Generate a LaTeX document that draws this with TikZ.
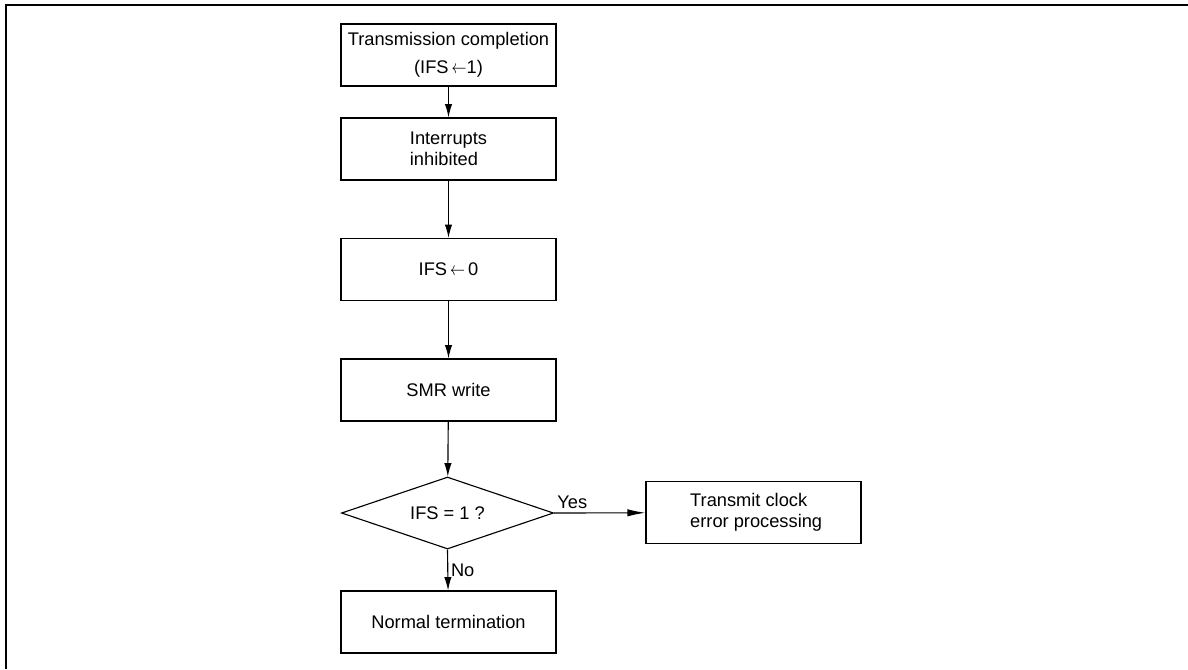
\documentclass[tikz,border=0pt]{standalone}
\usepackage{fontspec}
\setmainfont{Liberation Sans}
\usepackage{graphicx}
\usetikzlibrary{arrows.meta,shapes.geometric}
\newcommand{\myarrow}{\raisebox{0.3pt}{\scalebox{0.78}[1]{$\leftarrow$}}}
\begin{document}
\begin{tikzpicture}[x=0.75pt,y=-0.75pt,
  every node/.style={font=\fontsize{13.7pt}{15.5pt}\selectfont},
  procbox/.style={draw,line width=0.85pt,minimum width=161.25pt,minimum height=46.5pt,inner sep=0pt,align=center},
  decision/.style={draw,line width=0.85pt,diamond,aspect=2.944,minimum width=159pt,minimum height=54pt,inner sep=0pt},
  flow/.style={line width=0.85pt,-{Latex[length=10pt,width=5.5pt]}},
  longflow/.style={line width=0.85pt,-{Latex[length=13.5pt,width=5.5pt]}},
  frameline/.style={line width=0.9pt}]
\useasboundingbox (0,0) rectangle (1188,669);
\coordinate (fa) at (6,669);
\coordinate (fb) at (6,5);
\coordinate (fc) at (1188,5);
\draw[frameline] (fa) -- (fb) -- (fc);
\node[procbox,font=\fontsize{13.7pt}{21pt}\selectfont] (b1) at (448.5,55) {Transmission completion\\(IFS\,\myarrow1)};
\node[procbox,align=left] (b2) at (448.5,149) {Interrupts\\inhibited};
\node[procbox] (b3) at (448.5,269.5) {IFS\,\myarrow\,0};
\node[procbox] (b4) at (448.5,390) {SMR write};
\node[decision] (d) at (447.5,513) {IFS = 1 ?};
\node[procbox] (b5) at (448.5,622) {Normal termination};
\node[procbox,align=left] (t) at (753.5,512.5) {\hspace*{4pt}Transmit clock\\\hspace*{4pt}error processing};
\draw[flow] (b1) -- (b2);
\draw[flow] (b2) -- (b3);
\draw[flow] (b3) -- (b4);
\draw[flow] (b4) -- (d);
\draw[flow] (d.south) -- node[right,inner sep=2pt] (no) {No} (b5);
\draw[longflow] (d.east) -- node[pos=0.2,above,inner sep=3pt] (yes) {Yes} (t);
\end{tikzpicture}
\end{document}
